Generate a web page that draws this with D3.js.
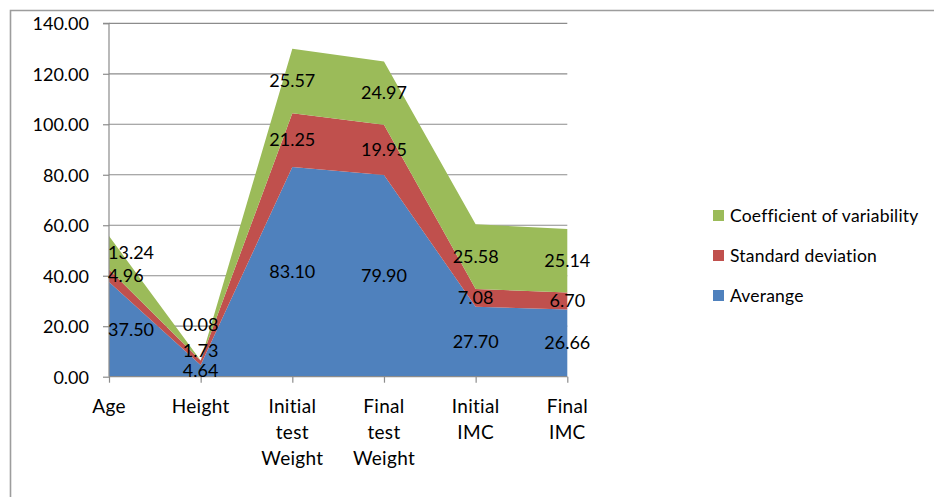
<!DOCTYPE html>
<html>
<head>
<meta charset="utf-8">
<script src="https://cdn.jsdelivr.net/npm/d3@7"></script>
<style>
  html, body { margin: 0; padding: 0; background: #fff; }
  svg { display: block; }
  text { font-family: Lato, "Open Sans", sans-serif; fill: #000; }
</style>
</head>
<body>
<svg id="chart" width="934" height="497"></svg>
<script>
// Sample description: stacked statistics per measure
const categories = ["Age", "Height", "Initial test Weight", "Final test Weight", "Initial IMC", "Final IMC"];
const averange = [37.50, 4.64, 83.10, 79.90, 27.70, 26.66];
const standardDeviation = [4.96, 1.73, 21.25, 19.95, 7.08, 6.70];
const coefficientOfVariability = [13.24, 0.08, 25.57, 24.97, 25.58, 25.14];
const yTicks = [0, 20, 40, 60, 80, 100, 120, 140];

const seriesNames = ["Averange", "Standard deviation", "Coefficient of variability"];
const seriesValues = [averange, standardDeviation, coefficientOfVariability];
const colors = ["#4F81BD", "#C0504D", "#9BBB59"];

const rows = categories.map((c, i) => {
  const r = { category: c };
  seriesNames.forEach((s, k) => { r[s] = seriesValues[k][i]; });
  return r;
});

const svg = d3.select("#chart");
const plot = { left: 109, right: 567.3, top: 23.3, bottom: 376.7 };

const x = d3.scalePoint().domain(categories).range([plot.left, plot.right]);
const y = d3.scaleLinear().domain([0, 140]).range([plot.bottom, plot.top]);

// outer chart frame (left and top edges visible)
svg.append("path")
  .attr("d", `M10.5,497 L10.5,10.5 L934,10.5`)
  .attr("fill", "none").attr("stroke", "#9d9d9d").attr("stroke-width", 1.6);

// horizontal gridlines
svg.append("g").selectAll("line").data(yTicks.filter(t => t > 0)).join("line")
  .attr("x1", plot.left).attr("x2", plot.right)
  .attr("y1", d => y(d)).attr("y2", d => y(d))
  .attr("stroke", "#8c8c8c").attr("stroke-width", 1.2);

// stacked areas
const stacked = d3.stack().keys(seriesNames)(rows);
const area = d3.area()
  .x(d => x(d.data.category))
  .y0(d => y(d[0]))
  .y1(d => y(d[1]));

svg.append("g").selectAll("path").data(stacked).join("path")
  .attr("d", area)
  .attr("fill", (d, i) => colors[i]);

// y axis
const yAxis = d3.axisLeft(y).tickValues(yTicks).tickSize(6).tickFormat(d3.format(".2f"));
const gy = svg.append("g").attr("transform", `translate(${plot.left},0)`).call(yAxis);
gy.select(".domain").attr("stroke", "#8c8c8c").attr("stroke-width", 1.2).attr("d", `M-6,${plot.top}H0V${plot.bottom}`);
gy.selectAll(".tick line").attr("stroke", "#8c8c8c").attr("stroke-width", 1.2);
gy.selectAll(".tick text").attr("x", -20).attr("dy", "0.35em")
  .style("font-size", "18px").style("font-family", "Lato, sans-serif").attr("fill", "#000");

// x axis
const xAxis = d3.axisBottom(x).tickSize(6).tickFormat("");
const gx = svg.append("g").attr("transform", `translate(0,${plot.bottom})`).call(xAxis);
gx.select(".domain").attr("stroke", "#8c8c8c").attr("stroke-width", 1.2).attr("d", `M${plot.left},0H${plot.right}`);
gx.selectAll(".tick line").attr("stroke", "#8c8c8c").attr("stroke-width", 1.2);

// multi-line category labels
const catLabels = svg.append("g").selectAll("text").data(categories).join("text")
  .attr("text-anchor", "middle")
  .attr("x", d => x(d))
  .attr("y", plot.bottom + 36)
  .style("font-size", "19px")
  .style("letter-spacing", "0.3px");
catLabels.each(function (d) {
  const t = d3.select(this);
  d.split(" ").forEach((w, i) => {
    t.append("tspan").attr("x", x(d)).attr("dy", i === 0 ? 0 : 26).text(w);
  });
});

// data labels centred in each band
const labelNudge = { "Height": [0, -12, -36] };
const labels = svg.append("g");
stacked.forEach((layer, k) => {
  layer.forEach(d => {
    const cat = d.data.category;
    const nudge = labelNudge[cat] ? labelNudge[cat][k] : 0;
    const t = labels.append("text")
      .attr("x", x(cat))
      .attr("y", y((d[0] + d[1]) / 2) + nudge)
      .attr("dy", "0.35em")
      .attr("text-anchor", "middle")
      .style("font-size", "18px")
      .text(d3.format(".2f")(d.data[layer.key]));
    const w = t.node().getComputedTextLength();
    if (x(cat) - w / 2 < plot.left - 1) {
      t.attr("text-anchor", "start").attr("x", plot.left - 1);
    }
  });
});

// legend
const legend = svg.append("g").attr("transform", "translate(713,216)");
const legendOrder = [2, 1, 0];
legendOrder.forEach((k, i) => {
  const g = legend.append("g").attr("transform", `translate(0,${i * 40})`);
  g.append("rect").attr("x", 0).attr("y", -6).attr("width", 11).attr("height", 11).attr("fill", colors[k]);
  g.append("text").attr("x", 17).attr("y", 0).attr("dy", "0.35em")
    .style("font-size", "17.5px").style("letter-spacing", "0.2px").text(seriesNames[k]);
});
</script>
</body>
</html>
